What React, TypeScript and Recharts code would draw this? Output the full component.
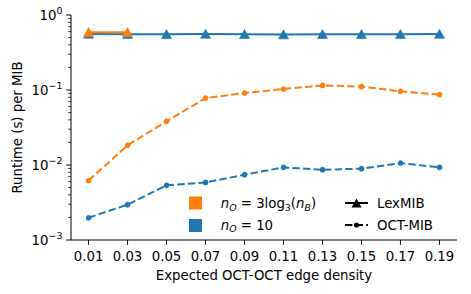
import React from "react";
import { LineChart, Line, XAxis, YAxis, Legend } from "recharts";

const density = [0.01, 0.03, 0.05, 0.07, 0.09, 0.11, 0.13, 0.15, 0.17, 0.19];
const lexLog = [0.59, 0.59];
const lexTen = [0.56, 0.555, 0.555, 0.56, 0.555, 0.55, 0.555, 0.555, 0.555, 0.56];
const octLog = [0.0062, 0.0183, 0.0382, 0.078, 0.091, 0.103, 0.115, 0.111, 0.096, 0.087];
const octTen = [0.00198, 0.00296, 0.00535, 0.00586, 0.00743, 0.0093, 0.00865, 0.00893, 0.0106, 0.0093];
const yTicks = [
  0.001, 0.002, 0.003, 0.004, 0.005, 0.006, 0.007, 0.008, 0.009,
  0.01, 0.02, 0.03, 0.04, 0.05, 0.06, 0.07, 0.08, 0.09,
  0.1, 0.2, 0.3, 0.4, 0.5, 0.6, 0.7, 0.8, 0.9, 1,
];

const data = density.map((d, i) => ({
  density: d,
  lexLog: lexLog[i] ?? null,
  lexTen: lexTen[i],
  octLog: octLog[i],
  octTen: octTen[i],
}));

const ORANGE = "#ff7f0e";
const BLUE = "#1f77b4";
const FONT = "DejaVu Sans";
const FS = 13.3;
const DASH = "7.4 3.2";

const XTick = (props: any) => {
  const { x, y, payload } = props;
  return (
    <g>
      <line x1={x} x2={x} y1={y} y2={y + 4.8} stroke="#000" strokeWidth={1} />
      <text x={x} y={y + 21} textAnchor="middle" fontFamily={FONT} fontSize={FS} fill="#000">
        {payload.value.toFixed(2)}
      </text>
    </g>
  );
};

const YTick = (props: any) => {
  const { x, y, payload } = props;
  const lg = Math.log10(payload.value);
  const major = Math.abs(lg - Math.round(lg)) < 1e-6;
  const len = major ? 4.8 : 2.8;
  const exp = Math.round(lg);
  return (
    <g>
      <line x1={x} x2={x - len} y1={y} y2={y} stroke="#000" strokeWidth={major ? 1 : 0.8} />
      {major && (
        <text x={x - 8.5} y={y + 4.8} textAnchor="end" fontFamily={FONT} fontSize={FS} fill="#000">
          10
          <tspan dy={-6} fontSize={9.5}>
            {exp < 0 ? "\u2212" + Math.abs(exp) : String(exp)}
          </tspan>
        </text>
      )}
    </g>
  );
};

const triangle = (color: string) => (p: any) => {
  const { cx, cy, key } = p;
  if (cx == null || cy == null || p.value == null) return <g key={key} />;
  return (
    <path
      key={key}
      d={`M${cx},${cy - 4.6} L${cx + 5},${cy + 4.4} L${cx - 5},${cy + 4.4} Z`}
      fill={color}
      stroke={color}
      strokeWidth={0.6}
    />
  );
};

const XLabel = (props: any) => {
  const { x, y, width } = props.viewBox;
  return (
    <text x={x + width / 2} y={y + 39.5} textAnchor="middle" fontFamily={FONT} fontSize={FS} fill="#000">
      Expected OCT-OCT edge density
    </text>
  );
};

const YLabel = (props: any) => {
  const { y, height } = props.viewBox;
  const cy = y + height / 2;
  return (
    <text
      x={22}
      y={cy}
      transform={`rotate(-90 22 ${cy})`}
      textAnchor="middle"
      fontFamily={FONT}
      fontSize={FS}
      fill="#000"
    >
      Runtime (s) per MIB
    </text>
  );
};

const MathLabel = ({ x, y, ten }: { x: number; y: number; ten: boolean }) => (
  <text x={x} y={y} fontFamily={FONT} fontSize={FS} fill="#000">
    <tspan fontStyle="italic">n</tspan>
    <tspan fontStyle="italic" fontSize={9.4} dy={2.8}>O</tspan>
    <tspan dy={-2.8}>{" = "}</tspan>
    {ten ? (
      <tspan>10</tspan>
    ) : (
      <>
        <tspan>3log</tspan>
        <tspan fontSize={9.4} dy={2.8}>3</tspan>
        <tspan dy={-2.8}>(</tspan>
        <tspan fontStyle="italic">n</tspan>
        <tspan fontStyle="italic" fontSize={9.4} dy={2.8}>B</tspan>
        <tspan dy={-2.8}>)</tspan>
      </>
    )}
  </text>
);

const renderLegend = () => (
  <svg width={285} height={50} style={{ display: "block", overflow: "visible" }}>
    <rect x={9} y={6.5} width={13} height={13} fill={ORANGE} />
    <rect x={9} y={29} width={13} height={13} fill={BLUE} />
    <MathLabel x={40.7} y={18} ten={false} />
    <MathLabel x={40.7} y={39.5} ten={true} />
    <line x1={165} x2={188} y1={13} y2={13} stroke="#000" strokeWidth={2} />
    <path d="M176.5,8.4 L181.5,17.4 L171.5,17.4 Z" fill="#000" />
    <text x={197} y={18} fontFamily={FONT} fontSize={FS} fill="#000">LexMIB</text>
    <line x1={165} x2={188} y1={35} y2={35} stroke="#000" strokeWidth={2} strokeDasharray={DASH} />
    <circle cx={176.5} cy={35} r={2.6} fill="#000" />
    <text x={197} y={39.5} fontFamily={FONT} fontSize={FS} fill="#000">OCT-MIB</text>
  </svg>
);

export default function App() {
  return (
    <div style={{ position: "absolute", left: 0, top: 0, width: 471, height: 294, background: "#fff" }}>
      <LineChart
        width={471}
        height={294}
        data={data}
        margin={{ top: 15, right: 14, bottom: 0, left: 0 }}
      >
        <XAxis
          dataKey="density"
          type="number"
          domain={[0.001, 0.199]}
          ticks={density}
          allowDataOverflow
          height={54}
          tickSize={0}
          tickMargin={0}
          tickLine={false}
          tick={<XTick />}
          axisLine={{ stroke: "#000", strokeWidth: 1 }}
          label={<XLabel />}
          interval={0}
        />
        <XAxis
          xAxisId="top"
          orientation="top"
          dataKey="density"
          type="number"
          domain={[0.001, 0.199]}
          height={0}
          tick={false}
          tickLine={false}
          axisLine={{ stroke: "#000", strokeWidth: 1 }}
        />
        <YAxis
          scale="log"
          type="number"
          domain={[0.001, 1]}
          ticks={yTicks}
          allowDataOverflow
          width={71}
          tickSize={0}
          tickMargin={0}
          tickLine={false}
          tick={<YTick />}
          axisLine={{ stroke: "#000", strokeWidth: 1 }}
          label={<YLabel />}
          interval={0}
        />
        <YAxis
          yAxisId="right"
          orientation="right"
          type="number"
          domain={[0, 1]}
          width={0}
          tick={false}
          tickLine={false}
          axisLine={{ stroke: "#000", strokeWidth: 1 }}
        />
        <Legend
          layout="vertical"
          align="center"
          verticalAlign="middle"
          content={renderLegend}
          wrapperStyle={{ left: 180, top: 190, width: 285, height: 50 }}
        />
        <Line
          dataKey="lexTen"
          stroke={BLUE}
          strokeWidth={2}
          dot={triangle(BLUE)}
          isAnimationActive={false}
        />
        <Line
          dataKey="octTen"
          stroke={BLUE}
          strokeWidth={2}
          strokeDasharray={DASH}
          dot={{ r: 2.6, fill: BLUE, stroke: BLUE, strokeWidth: 0.5 }}
          isAnimationActive={false}
        />
        <Line
          dataKey="lexLog"
          stroke={ORANGE}
          strokeWidth={2}
          dot={triangle(ORANGE)}
          isAnimationActive={false}
        />
        <Line
          dataKey="octLog"
          stroke={ORANGE}
          strokeWidth={2}
          strokeDasharray={DASH}
          dot={{ r: 2.6, fill: ORANGE, stroke: ORANGE, strokeWidth: 0.5 }}
          isAnimationActive={false}
        />
      </LineChart>
    </div>
  );
}
